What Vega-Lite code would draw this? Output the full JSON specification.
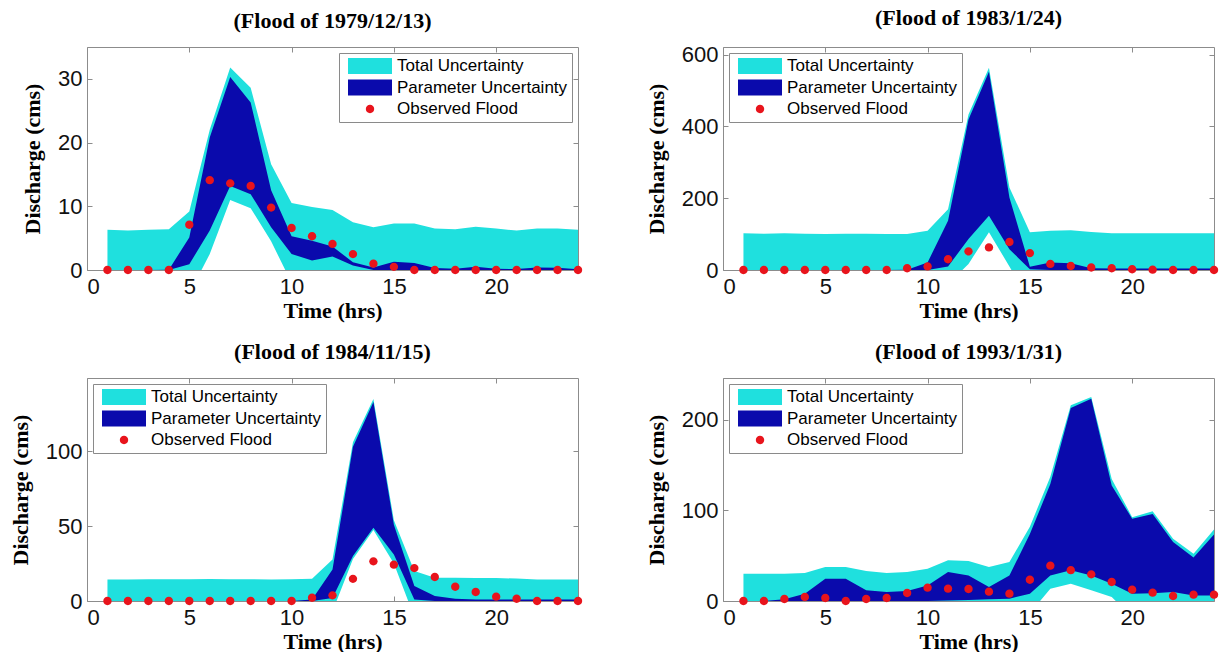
{
  "$schema": "https://vega.github.io/schema/vega-lite/v6.json",
  "padding": {"left": 9, "top": 6, "right": 0, "bottom": 0},
  "datasets": {
    "d": [
      {"f":1,"t":1,"tlo":0,"thi":6.3,"plo":0,"phi":0,"obs":0},
      {"f":1,"t":2,"tlo":0,"thi":6.2,"plo":0,"phi":0,"obs":0},
      {"f":1,"t":3,"tlo":0,"thi":6.3,"plo":0,"phi":0,"obs":0},
      {"f":1,"t":4,"tlo":0,"thi":6.4,"plo":0,"phi":0.05,"obs":0},
      {"f":1,"t":5,"tlo":-3.7,"thi":9.2,"plo":0.9,"phi":5.1,"obs":7.1},
      {"f":1,"t":6,"tlo":2.5,"thi":22,"plo":6.2,"phi":20.8,"obs":14.1},
      {"f":1,"t":7,"tlo":11,"thi":31.8,"plo":13.2,"phi":30.3,"obs":13.6},
      {"f":1,"t":8,"tlo":9.7,"thi":28.6,"plo":11.9,"phi":26.3,"obs":13.2},
      {"f":1,"t":9,"tlo":4.5,"thi":16.6,"plo":6.7,"phi":12.5,"obs":9.8},
      {"f":1,"t":10,"tlo":-2,"thi":10.5,"plo":2.5,"phi":5.3,"obs":6.6},
      {"f":1,"t":11,"tlo":0,"thi":9.9,"plo":1.5,"phi":4.6,"obs":5.3},
      {"f":1,"t":12,"tlo":0,"thi":9.4,"plo":2.1,"phi":3.7,"obs":4.1},
      {"f":1,"t":13,"tlo":0,"thi":7.5,"plo":0.7,"phi":1.2,"obs":2.5},
      {"f":1,"t":14,"tlo":0,"thi":6.7,"plo":0,"phi":0.4,"obs":1.0},
      {"f":1,"t":15,"tlo":0,"thi":7.3,"plo":0,"phi":1.3,"obs":0.5},
      {"f":1,"t":16,"tlo":0,"thi":7.3,"plo":0,"phi":1.1,"obs":0},
      {"f":1,"t":17,"tlo":0,"thi":6.5,"plo":0,"phi":0.3,"obs":0},
      {"f":1,"t":18,"tlo":0,"thi":6.4,"plo":0,"phi":0.2,"obs":0},
      {"f":1,"t":19,"tlo":0,"thi":6.8,"plo":0,"phi":0.5,"obs":0},
      {"f":1,"t":20,"tlo":0,"thi":6.5,"plo":0,"phi":0.2,"obs":0},
      {"f":1,"t":21,"tlo":0,"thi":6.2,"plo":0,"phi":0.15,"obs":0},
      {"f":1,"t":22,"tlo":0,"thi":6.5,"plo":0,"phi":0.4,"obs":0},
      {"f":1,"t":23,"tlo":0,"thi":6.5,"plo":0,"phi":0.35,"obs":0},
      {"f":1,"t":24,"tlo":0,"thi":6.3,"plo":0,"phi":0.1,"obs":0},

      {"f":2,"t":1,"tlo":0,"thi":102,"plo":0,"phi":0,"obs":0},
      {"f":2,"t":2,"tlo":0,"thi":101,"plo":0,"phi":0,"obs":0},
      {"f":2,"t":3,"tlo":0,"thi":102,"plo":0,"phi":0,"obs":0},
      {"f":2,"t":4,"tlo":0,"thi":101,"plo":0,"phi":0,"obs":0},
      {"f":2,"t":5,"tlo":0,"thi":100,"plo":0,"phi":0,"obs":0},
      {"f":2,"t":6,"tlo":0,"thi":101,"plo":0,"phi":0,"obs":0},
      {"f":2,"t":7,"tlo":0,"thi":101,"plo":0,"phi":0,"obs":0},
      {"f":2,"t":8,"tlo":0,"thi":100,"plo":0,"phi":0,"obs":0},
      {"f":2,"t":9,"tlo":0,"thi":100,"plo":0,"phi":1,"obs":5},
      {"f":2,"t":10,"tlo":0,"thi":109,"plo":0,"phi":21,"obs":10},
      {"f":2,"t":11,"tlo":-40,"thi":169,"plo":10,"phi":137,"obs":30},
      {"f":2,"t":12,"tlo":17,"thi":433,"plo":86,"phi":419,"obs":52},
      {"f":2,"t":13,"tlo":105,"thi":563,"plo":151,"phi":552,"obs":63},
      {"f":2,"t":14,"tlo":10,"thi":230,"plo":58,"phi":202,"obs":78},
      {"f":2,"t":15,"tlo":-90,"thi":105,"plo":2,"phi":9,"obs":47},
      {"f":2,"t":16,"tlo":0,"thi":109,"plo":0,"phi":21,"obs":17},
      {"f":2,"t":17,"tlo":0,"thi":111,"plo":0,"phi":19,"obs":11},
      {"f":2,"t":18,"tlo":0,"thi":106,"plo":0,"phi":5,"obs":7},
      {"f":2,"t":19,"tlo":0,"thi":102,"plo":0,"phi":4,"obs":5},
      {"f":2,"t":20,"tlo":0,"thi":102,"plo":0,"phi":4,"obs":2},
      {"f":2,"t":21,"tlo":0,"thi":102,"plo":0,"phi":4,"obs":1},
      {"f":2,"t":22,"tlo":0,"thi":102,"plo":0,"phi":4,"obs":0},
      {"f":2,"t":23,"tlo":0,"thi":102,"plo":0,"phi":4,"obs":0},
      {"f":2,"t":24,"tlo":0,"thi":102,"plo":0,"phi":4,"obs":0},

      {"f":3,"t":1,"tlo":0,"thi":14.4,"plo":0,"phi":0,"obs":0},
      {"f":3,"t":2,"tlo":0,"thi":14.4,"plo":0,"phi":0,"obs":0},
      {"f":3,"t":3,"tlo":0,"thi":14.5,"plo":0,"phi":0,"obs":0},
      {"f":3,"t":4,"tlo":0,"thi":14.6,"plo":0,"phi":0,"obs":0},
      {"f":3,"t":5,"tlo":0,"thi":14.5,"plo":0,"phi":0,"obs":0},
      {"f":3,"t":6,"tlo":0,"thi":14.7,"plo":0,"phi":0,"obs":0},
      {"f":3,"t":7,"tlo":0,"thi":14.6,"plo":0,"phi":0,"obs":0},
      {"f":3,"t":8,"tlo":0,"thi":14.5,"plo":0,"phi":0,"obs":0},
      {"f":3,"t":9,"tlo":0,"thi":14.4,"plo":0,"phi":0,"obs":0},
      {"f":3,"t":10,"tlo":0,"thi":14.5,"plo":0,"phi":0,"obs":0},
      {"f":3,"t":11,"tlo":0,"thi":14.8,"plo":0,"phi":1,"obs":2.2},
      {"f":3,"t":12,"tlo":-7,"thi":27.7,"plo":2,"phi":21,"obs":3.8},
      {"f":3,"t":13,"tlo":28,"thi":106,"plo":30,"phi":103,"obs":14.8},
      {"f":3,"t":14,"tlo":47.5,"thi":135,"plo":49,"phi":133,"obs":26.5},
      {"f":3,"t":15,"tlo":25,"thi":54,"plo":31,"phi":51,"obs":24.3},
      {"f":3,"t":16,"tlo":-10.7,"thi":20,"plo":1,"phi":10,"obs":22},
      {"f":3,"t":17,"tlo":0,"thi":15.5,"plo":0,"phi":3.3,"obs":16},
      {"f":3,"t":18,"tlo":0,"thi":15.5,"plo":0,"phi":1.5,"obs":9.5},
      {"f":3,"t":19,"tlo":0,"thi":15.3,"plo":0,"phi":1,"obs":6},
      {"f":3,"t":20,"tlo":0,"thi":15.3,"plo":0,"phi":1,"obs":2.9},
      {"f":3,"t":21,"tlo":0,"thi":15,"plo":0,"phi":1,"obs":1.5},
      {"f":3,"t":22,"tlo":0,"thi":14.4,"plo":0,"phi":1,"obs":0},
      {"f":3,"t":23,"tlo":0,"thi":14.4,"plo":0,"phi":1,"obs":0},
      {"f":3,"t":24,"tlo":0,"thi":14.4,"plo":0,"phi":1,"obs":0},

      {"f":4,"t":1,"tlo":0,"thi":30,"plo":0,"phi":0,"obs":0},
      {"f":4,"t":2,"tlo":0,"thi":30,"plo":0,"phi":0,"obs":0},
      {"f":4,"t":3,"tlo":0,"thi":30,"plo":0,"phi":2,"obs":2.2},
      {"f":4,"t":4,"tlo":0,"thi":31,"plo":0,"phi":8,"obs":4.4},
      {"f":4,"t":5,"tlo":0,"thi":37.5,"plo":0,"phi":24.6,"obs":3.3},
      {"f":4,"t":6,"tlo":0,"thi":37.5,"plo":0,"phi":24.6,"obs":0},
      {"f":4,"t":7,"tlo":0,"thi":33,"plo":0,"phi":11.8,"obs":2.2},
      {"f":4,"t":8,"tlo":0,"thi":31,"plo":0,"phi":10,"obs":3.3},
      {"f":4,"t":9,"tlo":0,"thi":32,"plo":0,"phi":11,"obs":8.8},
      {"f":4,"t":10,"tlo":0,"thi":35.7,"plo":0,"phi":17,"obs":14.7},
      {"f":4,"t":11,"tlo":0,"thi":45,"plo":0.5,"phi":32,"obs":13.6},
      {"f":4,"t":12,"tlo":0,"thi":44,"plo":1,"phi":28,"obs":13.2},
      {"f":4,"t":13,"tlo":0,"thi":37.5,"plo":2,"phi":15.4,"obs":10.3},
      {"f":4,"t":14,"tlo":0,"thi":43,"plo":2.6,"phi":28,"obs":8.1},
      {"f":4,"t":15,"tlo":-13.6,"thi":82,"plo":8,"phi":74,"obs":23.5},
      {"f":4,"t":16,"tlo":13.6,"thi":137,"plo":28,"phi":129,"obs":39},
      {"f":4,"t":17,"tlo":19,"thi":216,"plo":34,"phi":213,"obs":34},
      {"f":4,"t":18,"tlo":11.8,"thi":225,"plo":28,"phi":223,"obs":29.4},
      {"f":4,"t":19,"tlo":4.4,"thi":134.7,"plo":19,"phi":127.5,"obs":21},
      {"f":4,"t":20,"tlo":-17.6,"thi":92.5,"plo":8,"phi":90.7,"obs":12.5},
      {"f":4,"t":21,"tlo":0,"thi":99,"plo":8.5,"phi":96,"obs":9.2},
      {"f":4,"t":22,"tlo":0,"thi":68.7,"plo":10,"phi":65,"obs":5.5},
      {"f":4,"t":23,"tlo":0,"thi":52,"plo":6,"phi":48,"obs":7},
      {"f":4,"t":24,"tlo":0,"thi":79,"plo":6,"phi":73.4,"obs":7}
    ]
  },
  "data": {"name": "d"},
  "columns": 2,
  "spacing": {"row": 108, "column": 145},
  "bounds": "flush",
  "concat": [
    {
      "title": {"text": "(Flood of 1979/12/13)"},
      "width": 491, "height": 223,
      "transform": [{"filter": "datum.f == 1"}],
      "resolve": {"axis": {"x": "independent", "y": "independent"}},
      "layer": [
        {"mark": {"type": "area", "color": "#1fe0de", "clip": true},
         "encoding": {
           "x": {"field": "t", "type": "quantitative", "scale": {"domain": [0, 24], "nice": false, "zero": false}, "axis": {"orient": "bottom", "values": [0,5,10,15,20], "title": "Time (hrs)"}},
           "y": {"field": "thi", "type": "quantitative", "scale": {"domain": [0, 35], "nice": false}, "axis": {"orient": "left", "values": [0,10,20,30], "title": "Discharge (cms)"}},
           "y2": {"field": "tlo"}}},
        {"mark": {"type": "area", "color": "#0a0aac", "clip": true},
         "encoding": {
           "x": {"field": "t", "type": "quantitative", "axis": null},
           "y": {"field": "phi", "type": "quantitative", "axis": null},
           "y2": {"field": "plo"}}},
        {"mark": {"type": "point", "filled": true, "size": 1936, "opacity": 1, "strokeWidth": 0},
         "encoding": {
           "x": {"field": "t", "type": "quantitative", "axis": {"orient": "top", "values": [0,5,10,15,20], "labels": false, "title": null}},
           "y": {"field": "obs", "type": "quantitative", "axis": {"orient": "right", "values": [0,10,20,30], "labels": false, "title": null}},
           "color": {"datum": "Observed Flood", "type": "nominal", "scale": {"domain": ["Total Uncertainty", "Parameter Uncertainty", "Observed Flood"], "range": ["#1fe0de", "#0a0aac", "#e8141c"]}, "legend": {"orient": "top-right", "title": null}},
           "shape": {"datum": "Observed Flood", "type": "nominal", "scale": {"domain": ["Total Uncertainty", "Parameter Uncertainty", "Observed Flood"], "range": ["M-1,-0.36H1V0.36H-1Z", "M-1,-0.36H1V0.36H-1Z", "M-0.19,0A0.19,0.19 0 1,0 0.19,0A0.19,0.19 0 1,0 -0.19,0Z"]}}}}
      ]
    },
    {
      "title": {"text": "(Flood of 1983/1/24)"},
      "width": 491, "height": 223,
      "transform": [{"filter": "datum.f == 2"}],
      "resolve": {"axis": {"x": "independent", "y": "independent"}},
      "layer": [
        {"mark": {"type": "area", "color": "#1fe0de", "clip": true},
         "encoding": {
           "x": {"field": "t", "type": "quantitative", "scale": {"domain": [0, 24], "nice": false, "zero": false}, "axis": {"orient": "bottom", "values": [0,5,10,15,20], "title": "Time (hrs)"}},
           "y": {"field": "thi", "type": "quantitative", "scale": {"domain": [0, 621], "nice": false}, "axis": {"orient": "left", "values": [0,200,400,600], "title": "Discharge (cms)"}},
           "y2": {"field": "tlo"}}},
        {"mark": {"type": "area", "color": "#0a0aac", "clip": true},
         "encoding": {
           "x": {"field": "t", "type": "quantitative", "axis": null},
           "y": {"field": "phi", "type": "quantitative", "axis": null},
           "y2": {"field": "plo"}}},
        {"mark": {"type": "point", "filled": true, "size": 1936, "opacity": 1, "strokeWidth": 0},
         "encoding": {
           "x": {"field": "t", "type": "quantitative", "axis": {"orient": "top", "values": [0,5,10,15,20], "labels": false, "title": null}},
           "y": {"field": "obs", "type": "quantitative", "axis": {"orient": "right", "values": [0,200,400,600], "labels": false, "title": null}},
           "color": {"datum": "Observed Flood", "type": "nominal", "scale": {"domain": ["Total Uncertainty", "Parameter Uncertainty", "Observed Flood"], "range": ["#1fe0de", "#0a0aac", "#e8141c"]}, "legend": {"orient": "top-left", "title": null}},
           "shape": {"datum": "Observed Flood", "type": "nominal", "scale": {"domain": ["Total Uncertainty", "Parameter Uncertainty", "Observed Flood"], "range": ["M-1,-0.36H1V0.36H-1Z", "M-1,-0.36H1V0.36H-1Z", "M-0.19,0A0.19,0.19 0 1,0 0.19,0A0.19,0.19 0 1,0 -0.19,0Z"]}}}}
      ]
    },
    {
      "title": {"text": "(Flood of 1984/11/15)"},
      "width": 491, "height": 223,
      "transform": [{"filter": "datum.f == 3"}],
      "resolve": {"axis": {"x": "independent", "y": "independent"}},
      "layer": [
        {"mark": {"type": "area", "color": "#1fe0de", "clip": true},
         "encoding": {
           "x": {"field": "t", "type": "quantitative", "scale": {"domain": [0, 24], "nice": false, "zero": false}, "axis": {"orient": "bottom", "values": [0,5,10,15,20], "title": "Time (hrs)"}},
           "y": {"field": "thi", "type": "quantitative", "scale": {"domain": [0, 149], "nice": false}, "axis": {"orient": "left", "values": [0,50,100], "title": "Discharge (cms)"}},
           "y2": {"field": "tlo"}}},
        {"mark": {"type": "area", "color": "#0a0aac", "clip": true},
         "encoding": {
           "x": {"field": "t", "type": "quantitative", "axis": null},
           "y": {"field": "phi", "type": "quantitative", "axis": null},
           "y2": {"field": "plo"}}},
        {"mark": {"type": "point", "filled": true, "size": 1936, "opacity": 1, "strokeWidth": 0},
         "encoding": {
           "x": {"field": "t", "type": "quantitative", "axis": {"orient": "top", "values": [0,5,10,15,20], "labels": false, "title": null}},
           "y": {"field": "obs", "type": "quantitative", "axis": {"orient": "right", "values": [0,50,100], "labels": false, "title": null}},
           "color": {"datum": "Observed Flood", "type": "nominal", "scale": {"domain": ["Total Uncertainty", "Parameter Uncertainty", "Observed Flood"], "range": ["#1fe0de", "#0a0aac", "#e8141c"]}, "legend": {"orient": "top-left", "title": null}},
           "shape": {"datum": "Observed Flood", "type": "nominal", "scale": {"domain": ["Total Uncertainty", "Parameter Uncertainty", "Observed Flood"], "range": ["M-1,-0.36H1V0.36H-1Z", "M-1,-0.36H1V0.36H-1Z", "M-0.19,0A0.19,0.19 0 1,0 0.19,0A0.19,0.19 0 1,0 -0.19,0Z"]}}}}
      ]
    },
    {
      "title": {"text": "(Flood of 1993/1/31)"},
      "width": 491, "height": 223,
      "transform": [{"filter": "datum.f == 4"}],
      "resolve": {"axis": {"x": "independent", "y": "independent"}},
      "layer": [
        {"mark": {"type": "area", "color": "#1fe0de", "clip": true},
         "encoding": {
           "x": {"field": "t", "type": "quantitative", "scale": {"domain": [0, 24], "nice": false, "zero": false}, "axis": {"orient": "bottom", "values": [0,5,10,15,20], "title": "Time (hrs)"}},
           "y": {"field": "thi", "type": "quantitative", "scale": {"domain": [0, 246], "nice": false}, "axis": {"orient": "left", "values": [0,100,200], "title": "Discharge (cms)"}},
           "y2": {"field": "tlo"}}},
        {"mark": {"type": "area", "color": "#0a0aac", "clip": true},
         "encoding": {
           "x": {"field": "t", "type": "quantitative", "axis": null},
           "y": {"field": "phi", "type": "quantitative", "axis": null},
           "y2": {"field": "plo"}}},
        {"mark": {"type": "point", "filled": true, "size": 1936, "opacity": 1, "strokeWidth": 0},
         "encoding": {
           "x": {"field": "t", "type": "quantitative", "axis": {"orient": "top", "values": [0,5,10,15,20], "labels": false, "title": null}},
           "y": {"field": "obs", "type": "quantitative", "axis": {"orient": "right", "values": [0,100,200], "labels": false, "title": null}},
           "color": {"datum": "Observed Flood", "type": "nominal", "scale": {"domain": ["Total Uncertainty", "Parameter Uncertainty", "Observed Flood"], "range": ["#1fe0de", "#0a0aac", "#e8141c"]}, "legend": {"orient": "top-left", "title": null}},
           "shape": {"datum": "Observed Flood", "type": "nominal", "scale": {"domain": ["Total Uncertainty", "Parameter Uncertainty", "Observed Flood"], "range": ["M-1,-0.36H1V0.36H-1Z", "M-1,-0.36H1V0.36H-1Z", "M-0.19,0A0.19,0.19 0 1,0 0.19,0A0.19,0.19 0 1,0 -0.19,0Z"]}}}}
      ]
    }
  ],
  "resolve": {"scale": {"color": "independent", "shape": "independent"}, "legend": {"color": "independent", "shape": "independent"}},
  "config": {
    "background": "white",
    "view": {"stroke": null},
    "axis": {"grid": false, "domainColor": "#8c8c8c", "domainWidth": 1, "tickColor": "#8c8c8c", "tickSize": -5, "tickWidth": 1, "labelFont": "Liberation Sans", "labelFontSize": 22, "labelColor": "#111111", "titleFont": "Liberation Serif", "titleFontSize": 22, "titleFontWeight": "bold", "titleColor": "#000000"},
    "axisX": {"labelPadding": 11, "titlePadding": 3},
    "axisY": {"labelPadding": 10, "titlePadding": 13},
    "title": {"font": "Liberation Serif", "fontSize": 22, "fontWeight": "bold", "color": "#000000", "offset": 14},
    "legend": {"labelFont": "Liberation Sans", "labelFontSize": 17, "labelColor": "#000000", "labelLimit": 400, "strokeColor": "#8a8a8a", "fillColor": "white", "padding": 4.5, "symbolSize": 1936, "symbolOffset": 4.5, "labelOffset": 5, "rowPadding": 3.5, "clipHeight": 17, "symbolStrokeWidth": 0, "offset": 6}
  }
}
